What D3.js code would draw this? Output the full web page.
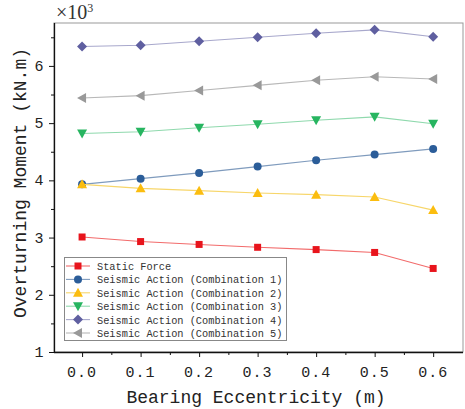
<!DOCTYPE html>
<html>
<head>
<meta charset="UTF-8">
<title>Overturning Moment</title>
<style>
    body { margin: 0; background: #fff; }
    svg { display: block; }
    .tick-lbl { font-family: 'Liberation Mono', 'DejaVu Sans Mono', monospace; font-size: 15px; fill: #222; }
    .title { font-family: 'Liberation Mono', 'DejaVu Sans Mono', monospace; font-size: 18px; fill: #222; }
    .legend-text { font-family: 'Liberation Mono', 'DejaVu Sans Mono', monospace; font-size: 10.3px; fill: #333; }
</style>
<script src="https://d3js.org/d3.v7.min.js"></script>
</head>
<body>
<svg id="chart" width="465" height="409"></svg>
<script>
    // data (values in 10^3 kN.m)
    const eccentricity = [0.0, 0.1, 0.2, 0.3, 0.4, 0.5, 0.6];
    const xTickLabels = ["0.0", "0.1", "0.2", "0.3", "0.4", "0.5", "0.6"];
    const yTicks = [1, 2, 3, 4, 5, 6];
    const seriesNames = [
        "Static Force",
        "Seismic Action (Combination 1)",
        "Seismic Action (Combination 2)",
        "Seismic Action (Combination 3)",
        "Seismic Action (Combination 4)",
        "Seismic Action (Combination 5)"
    ];
    const staticForce = [3.01, 2.93, 2.88, 2.83, 2.79, 2.74, 2.46];
    const combo1 = [3.93, 4.03, 4.13, 4.24, 4.35, 4.45, 4.55];
    const combo2 = [3.93, 3.86, 3.82, 3.78, 3.75, 3.71, 3.48];
    const combo3 = [4.82, 4.85, 4.92, 4.98, 5.05, 5.11, 4.99];
    const combo4 = [6.34, 6.36, 6.43, 6.50, 6.57, 6.63, 6.51];
    const combo5 = [5.44, 5.48, 5.57, 5.66, 5.75, 5.81, 5.77];

    const allSeries = [staticForce, combo1, combo2, combo3, combo4, combo5];
    const lineColors = ["#f26b6b", "#7f9bbd", "#f7d66a", "#8fd9ad", "#a8a8cc", "#b8b8b8"];
    const markerColors = ["#e8141c", "#2b5d99", "#fbbd0f", "#27b560", "#5f5fa0", "#999999"];
    const symbols = ["square", "circle", "up", "down", "diamond", "left"];

    const svg = d3.select("#chart");
    const plotL = 54, plotR = 463, plotT = 23, plotB = 352;

    const x = d3.scaleLinear().domain([-0.048, 0.651]).range([plotL, plotR]);
    const y = d3.scaleLinear().domain([1, 6.75]).range([plotB, plotT]);

    // frame (top and right in gray)
    svg.append("rect")
        .attr("x", plotL).attr("y", plotT)
        .attr("width", plotR - plotL).attr("height", plotB - plotT)
        .attr("fill", "none").attr("stroke", "#999").attr("stroke-width", 1);

    // x axis
    const xAxis = svg.append("g").attr("transform", `translate(0,${plotB})`);
    xAxis.call(d3.axisBottom(x).tickValues(eccentricity).tickSize(5).tickFormat(""));
    xAxis.append("g").call(d3.axisBottom(x)
        .tickValues([0.05, 0.15, 0.25, 0.35, 0.45, 0.55])
        .tickSize(3).tickFormat(""));
    xAxis.selectAll("path.domain").remove();
    xAxis.selectAll("line").attr("stroke", "#111");
    xAxis.append("path").attr("d", `M${plotL},0.5H${plotR}`).attr("stroke", "#111").attr("stroke-width", 1.3);

    eccentricity.forEach((e, i) => {
        svg.append("text").attr("class", "tick-lbl")
            .attr("x", x(e)).attr("y", plotB + 25)
            .attr("text-anchor", "middle")
            .attr("letter-spacing", "1px")
            .text(xTickLabels[i]);
    });

    // y axis
    const yAxis = svg.append("g").attr("transform", `translate(${plotL},0)`);
    yAxis.call(d3.axisLeft(y).tickValues(yTicks).tickSize(5).tickFormat(""));
    yAxis.append("g").call(d3.axisLeft(y).tickValues([1.5, 2.5, 3.5, 4.5, 5.5, 6.5]).tickSize(3).tickFormat(""));
    yAxis.selectAll("path.domain").remove();
    yAxis.selectAll("line").attr("stroke", "#111");
    yAxis.append("path").attr("d", `M0.5,${plotT}V${plotB}`).attr("stroke", "#111").attr("stroke-width", 1.3);

    yTicks.forEach(t => {
        svg.append("text").attr("class", "tick-lbl")
            .attr("x", plotL - 15).attr("y", y(t) + 5)
            .attr("text-anchor", "middle")
            .text(t);
    });

    // multiplier
    const mult = svg.append("text")
        .attr("x", 56).attr("y", 19)
        .attr("font-family", "'Liberation Serif', serif")
        .attr("font-size", "20px").attr("fill", "#333");
    mult.append("tspan").text("×10");
    mult.append("tspan").attr("font-size", "12px").attr("dy", "-7").text("3");

    // axis titles
    svg.append("text").attr("class", "title")
        .attr("x", 256).attr("y", 403)
        .attr("text-anchor", "middle")
        .text("Bearing Eccentricity (m)");
    svg.append("text").attr("class", "title")
        .attr("transform", "translate(26,183) rotate(-90)")
        .attr("text-anchor", "middle")
        .text("Overturning Moment (kN.m)");

    function drawMarker(g, kind, color) {
        if (kind === "square") {
            g.append("rect").attr("x", -3.5).attr("y", -3.5).attr("width", 7).attr("height", 7).attr("fill", color);
        } else if (kind === "circle") {
            g.append("circle").attr("r", 4).attr("fill", color);
        } else if (kind === "up") {
            g.append("path").attr("d", "M0,-5L5,4L-5,4Z").attr("fill", color);
        } else if (kind === "down") {
            g.append("path").attr("d", "M0,5L5,-4L-5,-4Z").attr("fill", color);
        } else if (kind === "diamond") {
            g.append("path").attr("d", "M0,-5L5,0L0,5L-5,0Z").attr("fill", color);
        } else if (kind === "left") {
            g.append("path").attr("d", "M-5,0L4,-5L4,5Z").attr("fill", color);
        }
    }

    const line = d3.line().x((d, i) => x(eccentricity[i])).y(d => y(d));

    allSeries.forEach((vals, s) => {
        svg.append("path")
            .datum(vals)
            .attr("d", line)
            .attr("fill", "none")
            .attr("stroke", lineColors[s])
            .attr("stroke-width", 1.1);
        vals.forEach((v, i) => {
            const g = svg.append("g").attr("transform", `translate(${x(eccentricity[i])},${y(v)})`);
            drawMarker(g, symbols[s], markerColors[s]);
        });
    });

    // legend
    const lg = svg.append("g");
    lg.append("rect").attr("x", 64.5).attr("y", 257.5).attr("width", 222).attr("height", 83)
        .attr("fill", "#fff").attr("stroke", "#888").attr("stroke-width", 1);
    seriesNames.forEach((name, s) => {
        const ry = 266 + s * 13.4;
        lg.append("line").attr("x1", 66).attr("x2", 90).attr("y1", ry).attr("y2", ry)
            .attr("stroke", lineColors[s]).attr("stroke-width", 1.1);
        const g = lg.append("g").attr("transform", `translate(78,${ry})`);
        drawMarker(g, symbols[s], markerColors[s]);
        lg.append("text").attr("class", "legend-text")
            .attr("x", 97).attr("y", ry + 4)
            .text(name);
    });
</script>
</body>
</html>
